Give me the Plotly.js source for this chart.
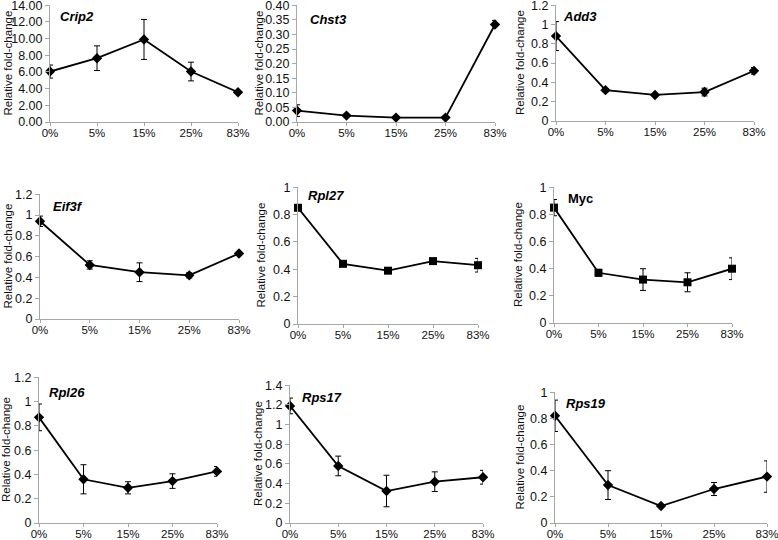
<!DOCTYPE html>
<html>
<head>
<meta charset="utf-8">
<script src="https://cdn.plot.ly/plotly-3.0.1.min.js"></script>
<style>
  body { margin: 0; background: #fff; }
  #myPlot { width: 778px; height: 540px; }
</style>
</head>
<body>
<div id="myPlot"></div>
<script>
// categories (sucrose / condition %)
const categorias = ["0%", "5%", "15%", "25%", "83%"];

// gene names
const genes = ["Crip2", "Chst3", "Add3", "Eif3f", "Rpl27", "Myc", "Rpl26", "Rps17", "Rps19"];

// mean values
const crip2 = [6.05, 7.65, 9.9, 6.05, 3.57];
const chst3 = [0.039, 0.022, 0.015, 0.015, 0.334];
const add3 = [0.88, 0.32, 0.27, 0.30, 0.52];
const eif3f = [0.94, 0.52, 0.45, 0.42, 0.63];
const rpl27 = [0.85, 0.44, 0.39, 0.46, 0.43];
const myc = [0.85, 0.37, 0.32, 0.30, 0.40];
const rpl26 = [0.87, 0.36, 0.29, 0.345, 0.425];
const rps17 = [1.19, 0.58, 0.325, 0.42, 0.465];
const rps19 = [0.82, 0.29, 0.13, 0.26, 0.355];

// error bars
const crip2Err = [0.78, 1.48, 2.4, 1.12, 0.05];
const chst3Err = [0.02, 0.003, 0.002, 0.002, 0.014];
const add3Err = [0.15, 0.015, 0.012, 0.04, 0.035];
const eif3fErr = [0.05, 0.04, 0.09, 0.025, 0.012];
const rpl27Err = [0.01, 0.008, 0.008, 0.012, 0.05];
const mycErr = [0.06, 0.025, 0.08, 0.07, 0.08];
const rpl26Err = [0.11, 0.12, 0.05, 0.06, 0.04];
const rps17Err = [0.08, 0.1, 0.16, 0.1, 0.07];
const rps19Err = [0.12, 0.11, 0.01, 0.05, 0.12];

// y axis tick labels per panel
const ticksCrip2 = ["0.00", "2.00", "4.00", "6.00", "8.00", "10.00", "12.00", "14.00"];
const ticksChst3 = ["0.00", "0.05", "0.10", "0.15", "0.20", "0.25", "0.30", "0.35", "0.40"];
const ticks12 = ["0", "0.2", "0.4", "0.6", "0.8", "1", "1.2"];
const ticks14 = ["0", "0.2", "0.4", "0.6", "0.8", "1", "1.2", "1.4"];
const ticks10 = ["0", "0.2", "0.4", "0.6", "0.8", "1"];

const valores = [crip2, chst3, add3, eif3f, rpl27, myc, rpl26, rps17, rps19];
const errores = [crip2Err, chst3Err, add3Err, eif3fErr, rpl27Err, mycErr, rpl26Err, rps17Err, rps19Err];
const etiquetasY = [ticksCrip2, ticksChst3, ticks12, ticks12, ticks10, ticks10, ticks12, ticks14, ticks10];
const simbolos = ["diamond", "diamond", "diamond", "diamond", "square", "square", "diamond", "diamond", "diamond"];

// plot boxes in pixels: [left, right, top(ymax), bottom(0)]
const cajas = [
    [50, 238, 5, 122], [297, 495, 5, 122], [556, 754, 5, 121],
    [40, 239, 194, 319], [298, 478, 187, 324], [554, 732, 187, 323],
    [39, 217, 377, 523], [290, 483, 385, 523], [555, 767, 392, 523]
];
// y title x position and gene label position [left, center y]
const tituloY = [8, 259, 520, 7, 261, 518, 6, 258, 519];
const etiquetas = [[58, 16], [308, 19], [561, 16], [51, 207], [306, 195], [566, 198], [47, 392], [300, 397], [564, 403]];

const W = 778, H = 540;
const fuente = "Liberation Sans, Arial, sans-serif";
const data = [];
const layout = {
    width: W, height: H,
    margin: {l: 0, r: 0, t: 0, b: 0},
    paper_bgcolor: "#fff", plot_bgcolor: "#fff",
    showlegend: false,
    font: {family: fuente, size: 11, color: "#222"},
    annotations: []
};

for (let i = 0; i < genes.length; i++) {
    const n = i === 0 ? "" : String(i + 1);
    const c = cajas[i];
    const tt = etiquetasY[i];
    const tv = tt.map(Number);
    const top = tv[tv.length - 1];
    data.push({
        x: categorias,
        y: valores[i],
        xaxis: "x" + n,
        yaxis: "y" + n,
        type: "scatter",
        mode: "lines+markers",
        cliponaxis: false,
        line: {color: "#000", width: 1.8},
        marker: {symbol: simbolos[i], size: 8, color: "#000"},
        error_y: {type: "data", array: errores[i], visible: true, color: "#000", thickness: 1, width: 3}
    });
    layout["xaxis" + n] = {
        domain: [c[0] / W, c[1] / W],
        anchor: "y" + n,
        type: "category",
        range: [0, 4],
        showgrid: false, zeroline: false,
        showline: true, linecolor: "#a6a6a6", linewidth: 1,
        ticks: "outside", ticklen: 3, tickcolor: "#a6a6a6",
        ticklabelstandoff: -3,
        tickfont: {size: 11.5, color: "#111"}
    };
    layout["yaxis" + n] = {
        domain: [1 - c[3] / H, 1 - c[2] / H],
        anchor: "x" + n,
        range: [0, top * 1.002],
        tickmode: "array",
        tickvals: tv,
        ticktext: tt,
        ticklabeloverflow: "allow",
        showgrid: false, zeroline: false,
        showline: true, linecolor: "#a6a6a6", linewidth: 1,
        ticks: "outside", ticklen: 4, tickcolor: "#a6a6a6",
        tickfont: {size: 12.5, color: "#111"}
    };
    layout.annotations.push({
        text: "Relative fold-change",
        xref: "paper", yref: "paper",
        x: tituloY[i] / W, y: 1 - (c[2] + c[3]) / 2 / H,
        xanchor: "center", yanchor: "middle",
        textangle: -90, showarrow: false,
        font: {size: 11.5, color: "#111"}
    });
    const e = etiquetas[i];
    layout.annotations.push({
        text: genes[i] === "Myc" ? "<b>Myc</b>" : "<b><i>" + genes[i] + "</i></b>",
        xref: "paper", yref: "paper",
        x: e[0] / W, y: 1 - e[1] / H,
        xanchor: "left", yanchor: "middle",
        showarrow: false,
        font: {size: 13, color: "#000"}
    });
}

Plotly.newPlot("myPlot", data, layout, {displayModeBar: false, staticPlot: true});
</script>
</body>
</html>
